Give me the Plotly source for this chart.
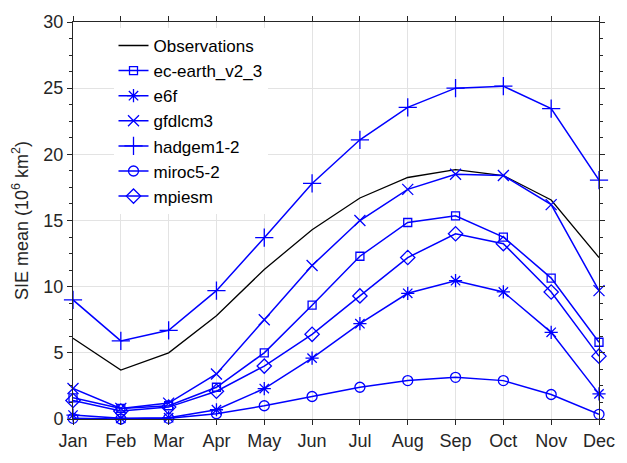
import plotly.graph_objects as go

months = ["Jan", "Feb", "Mar", "Apr", "May", "Jun", "Jul", "Aug", "Sep", "Oct", "Nov", "Dec"]
month_idx = list(range(1, 13))

observations = [6.1, 3.7, 5.0, 7.8, 11.3, 14.3, 16.7, 18.25, 18.85, 18.4, 16.55, 12.2]
ec_earth_v2_3 = [1.6, 0.8, 1.0, 2.4, 5.0, 8.6, 12.3, 14.85, 15.35, 13.75, 10.65, 5.8]
e6f = [0.3, 0.05, 0.1, 0.7, 2.3, 4.6, 7.2, 9.5, 10.45, 9.6, 6.55, 1.9]
gfdlcm3 = [2.3, 0.8, 1.2, 3.4, 7.5, 11.6, 15.0, 17.35, 18.5, 18.4, 16.2, 9.7]
hadgem1_2 = [9.0, 5.9, 6.7, 9.7, 13.7, 17.8, 21.1, 23.55, 25.0, 25.15, 23.45, 18.05]
miroc5_2 = [0.05, 0.0, 0.05, 0.4, 1.0, 1.7, 2.4, 2.9, 3.15, 2.9, 1.85, 0.35]
mpiesm = [1.4, 0.6, 0.9, 2.1, 4.0, 6.4, 9.3, 12.2, 14.0, 13.25, 9.6, 4.75]

yticks = [0, 5, 10, 15, 20, 25, 30]

BLUE = "#0000ff"
AX = "#262626"
FONT = "Liberation Sans, Arial, Helvetica, sans-serif"

fig = go.Figure()
fig.add_trace(go.Scatter(x=month_idx, y=observations, name="Observations", mode="lines",
                         line=dict(color="black", width=1.3), cliponaxis=False))

models = [
    ("ec-earth_v2_3", ec_earth_v2_3, "square-open", 8),
    ("e6f", e6f, "asterisk-open", 11),
    ("gfdlcm3", gfdlcm3, "x-thin-open", 11),
    ("hadgem1-2", hadgem1_2, "cross-thin-open", 13),
    ("miroc5-2", miroc5_2, "circle-open", 10),
    ("mpiesm", mpiesm, "diamond-open", 11),
]
for name, vals, sym, sz in models:
    fig.add_trace(go.Scatter(x=month_idx, y=vals, name=name, mode="lines+markers",
                             line=dict(color=BLUE, width=1.5),
                             marker=dict(symbol=sym, size=sz, color=BLUE,
                                         line=dict(color=BLUE, width=1.3)),
                             cliponaxis=False))

fig.update_layout(
    width=627, height=463,
    margin=dict(l=73, r=17, t=15, b=40),
    paper_bgcolor="white", plot_bgcolor="white",
    font=dict(family=FONT, size=18, color=AX),
    showlegend=True,
    legend=dict(x=0.077, y=0.985, xanchor="left", yanchor="top",
                bgcolor="white", borderwidth=0, tracegroupgap=0,
                font=dict(size=17, color="black")),
    xaxis=dict(range=[1, 12], tickmode="array", tickvals=month_idx, ticktext=months,
               showline=True, linecolor=AX, linewidth=1, mirror="ticks",
               ticks="outside", ticklen=5, tickcolor=AX,
               showgrid=True, gridcolor="#e3e3e3", gridwidth=1, zeroline=False),
    yaxis=dict(range=[0, 30], tickmode="array", tickvals=yticks,
               showline=True, linecolor=AX, linewidth=1, mirror="ticks",
               ticks="outside", ticklen=5, tickcolor=AX,
               minor=dict(dtick=1.25, ticks="outside", ticklen=3, tickcolor=AX, showgrid=False),
               showgrid=True, gridcolor="#e3e3e3", gridwidth=1, zeroline=False,
               title=dict(text="SIE mean (10<sup>6</sup> km<sup>2</sup>)", standoff=10,
                          font=dict(size=18, color=AX))),
)

fig.write_html("out.html")
